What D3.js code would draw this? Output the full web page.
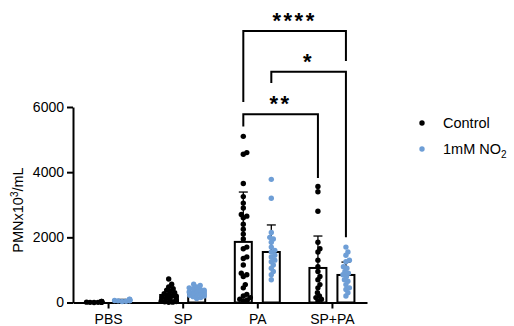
<!DOCTYPE html>
<html><head><meta charset="utf-8">
<script src="https://cdn.jsdelivr.net/npm/d3@7"></script>
<style>
html,body{margin:0;padding:0;background:#fff;}
svg{display:block;font-family:"Liberation Sans",Arial,sans-serif;}
</style></head>
<body><svg id="c" width="514" height="326"></svg>
<script>
const categories = ["PBS", "SP", "PA", "SP+PA"];
const seriesNames = ["Control", "1mM NO2"];
const yTicks = [0, 2000, 4000, 6000];

const controlMean = [20, 230, 1860, 1060];
const controlSD   = [12, 160, 1530, 980];
const no2Mean     = [70, 290, 1550, 845];
const no2SD       = [25, 110, 830, 395];

const controlPoints = [
  [0, 5, 10, 15, 20, 25, 30, 35, 10, 20, 5, 15],
  [720, 560, 480, 420, 380, 340, 300, 270, 240, 210, 190, 170, 150, 130, 110, 90, 70, 60, 50, 40, 30, 20, 10, 5],
  [5100, 4600, 4550, 3650, 3250, 3050, 2900, 2700, 2650, 2600, 2400, 2250, 2100, 1950, 1700, 1650, 1400, 1350, 1150, 900, 850, 800, 550, 450, 250, 200, 150, 100, 80, 50],
  [3560, 3400, 2800, 1850, 1650, 1550, 1300, 1100, 950, 800, 700, 550, 450, 300, 200, 150, 100, 50]
];
const no2Points = [
  [30, 40, 50, 60, 70, 80, 90, 100, 60, 50, 70, 80],
  [560, 520, 480, 450, 420, 400, 380, 360, 340, 320, 300, 280, 260, 240, 220, 200, 180, 150, 120],
  [3780, 3200, 2150, 2000, 1950, 1850, 1700, 1600, 1550, 1450, 1400, 1300, 1250, 1150, 1050, 950, 850, 700],
  [1700, 1550, 1450, 1300, 1250, 1100, 1050, 950, 900, 850, 800, 700, 650, 550, 450, 400, 300, 200]
];

// significance comparisons: [category, series] pairs
const comparisons = [
  { a: ["PA", 0], b: ["SP+PA", 1], label: "****", top: 8330, legA: 6150, legB: 7410 },
  { a: ["PA", 1], b: ["SP+PA", 1], label: "*",    top: 7080, legA: 6740, legB: 2000 },
  { a: ["PA", 0], b: ["SP+PA", 0], label: "**",   top: 5780, legA: 5400, legB: 3820 }
];

const blue = "#6e9ed6";
const colors = ["#000000", blue];
const svg = d3.select("#c");

const y = d3.scaleLinear().domain([0, 6000]).range([302.5, 107]);
const x = d3.scalePoint().domain(categories).range([73, 367]).padding(0.47);
const off = d3.scalePoint().domain([0, 1]).range([-14, 14]);
const barW = 17;
const r = 2.7;

// Y axis
const ya = svg.append("g").attr("transform", "translate(73,0)")
  .call(d3.axisLeft(y).tickValues(yTicks).tickSize(6).tickSizeOuter(0).tickFormat(d3.format("d")).tickPadding(3));
ya.select(".domain").attr("stroke-width", 2);
ya.selectAll(".tick line").attr("stroke-width", 2);
ya.selectAll("text").attr("font-size", 14).attr("font-family", "Liberation Sans, Arial, sans-serif").attr("fill", "#000");

// X axis
const xa = svg.append("g").attr("transform", "translate(0,302.5)")
  .call(d3.axisBottom(x).tickSize(6).tickSizeOuter(0).tickPadding(6));
xa.select(".domain").attr("stroke-width", 2);
xa.selectAll(".tick line").attr("stroke-width", 2);
xa.selectAll("text").attr("font-size", 14).attr("font-family", "Liberation Sans, Arial, sans-serif").attr("fill", "#000");

// Y label
svg.append("text").attr("transform", "translate(23,210) rotate(-90)")
  .attr("text-anchor", "middle").attr("font-size", 14.5)
  .call(t => {
    t.append("tspan").text("PMNx10");
    t.append("tspan").attr("dy", -5).attr("font-size", 10).text("3");
    t.append("tspan").attr("dy", 5).text("/mL");
  });

const means = [controlMean, no2Mean];
const sds = [controlSD, no2SD];
const pts = [controlPoints, no2Points];

const plot = svg.append("g");
// bars + error bars
[0, 1].forEach(s => {
  categories.forEach((c, i) => {
    const cx = x(c) + off(s);
    const m = means[s][i], sd = sds[s][i];
    plot.append("rect")
      .attr("x", cx - barW / 2).attr("y", y(m))
      .attr("width", barW).attr("height", y(0) - y(m))
      .attr("fill", "#fff").attr("stroke", "#000").attr("stroke-width", 2);
    plot.append("line").attr("x1", cx).attr("x2", cx).attr("y1", y(m)).attr("y2", y(m + sd))
      .attr("stroke", "#000").attr("stroke-width", 1.3);
    plot.append("line").attr("x1", cx - 4.5).attr("x2", cx + 4.5).attr("y1", y(m + sd)).attr("y2", y(m + sd))
      .attr("stroke", "#000").attr("stroke-width", 1.3);
  });
});

// beeswarm (allows partial overlap, like the dense scatter of the reference)
function swarm(vals) {
  const placed = [];
  const dmin = r * 1.35;
  const sorted = vals.slice().sort((a, b) => a - b);
  sorted.forEach(v => {
    const py = y(v);
    let best = 0;
    for (let k = 0; k < 40; k++) {
      const cand = k === 0 ? 0 : (k % 2 ? 1 : -1) * Math.ceil(k / 2) * 0.5;
      let ok = true;
      for (const p of placed) {
        const dy = Math.abs(p.y - py);
        if (dy < dmin) {
          const need = Math.sqrt(dmin * dmin - dy * dy);
          if (Math.abs(p.dx - cand) < need) { ok = false; break; }
        }
      }
      if (ok) { best = cand; break; }
      if (k === 39) best = cand;
    }
    placed.push({ y: py, dx: Math.max(-7.5, Math.min(7.5, best)) });
  });
  return placed;
}

[0, 1].forEach(s => {
  categories.forEach((c, i) => {
    const cx = x(c) + off(s);
    swarm(pts[s][i]).forEach(p => {
      plot.append("circle").attr("cx", cx + p.dx).attr("cy", p.y).attr("r", r).attr("fill", colors[s]);
    });
  });
});

// significance brackets
const px = ([c, s]) => x(c) + off(s);
comparisons.forEach(cmp => {
  const xa_ = px(cmp.a), xb_ = px(cmp.b);
  const path = d3.path();
  path.moveTo(xa_, y(cmp.legA));
  path.lineTo(xa_, y(cmp.top));
  path.lineTo(xb_, y(cmp.top));
  path.lineTo(xb_, y(cmp.legB));
  svg.append("path").attr("d", path.toString()).attr("fill", "none").attr("stroke", "#000").attr("stroke-width", 2);
  svg.append("text").attr("x", (xa_ + xb_) / 2).attr("y", y(cmp.top) - 3)
    .attr("text-anchor", "middle").attr("font-size", 22).attr("font-weight", "bold")
    .attr("letter-spacing", 2.5).text(cmp.label);
});

// legend
const lg = svg.append("g");
seriesNames.forEach((n, i) => {
  const ly = 123 + i * 26;
  lg.append("circle").attr("cx", 422).attr("cy", ly).attr("r", r).attr("fill", colors[i]);
  const t = lg.append("text").attr("x", 443).attr("y", ly + 5).attr("font-size", 14.5);
  if (n.endsWith("NO2")) {
    t.append("tspan").text(n.slice(0, -1));
    t.append("tspan").attr("dy", 4).attr("font-size", 10).text("2");
  } else t.text(n);
});
</script></body></html>
